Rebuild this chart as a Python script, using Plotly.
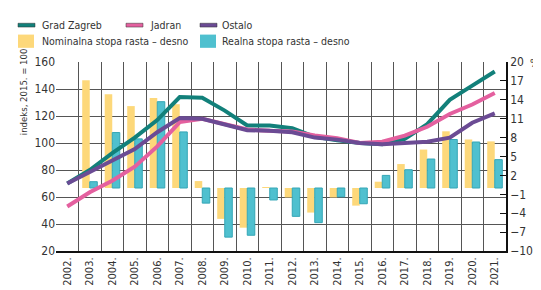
import plotly.graph_objects as go

years = [f"{y}." for y in range(2002, 2022)]
grad_zagreb = [70, 80, 92.5, 104, 117, 134, 133.5, 124, 113, 113, 111, 104.5, 102, 100, 99, 103, 114, 132, 142.5, 153]
jadran = [53, 63.5, 72, 82.5, 97.5, 115.5, 118, 114, 110, 109, 108.5, 105.5, 103.5, 100, 101, 105.5, 112, 121.5, 128.5, 137]
ostalo = [70, 78.5, 86.5, 95.5, 108, 118.5, 118, 113.5, 109.5, 109, 108, 104, 102.5, 100, 99, 100, 101, 104, 115, 122]
nominalna = [None, 17.1, 14.9, 13.0, 14.3, 13.3, 1.1, -4.9, -6.3, 0.1, -1.5, -3.9, -1.5, -2.8, 1.0, 3.8, 6.1, 9.0, 7.7, 7.4]
realna = [None, 1.0, 8.8, 7.8, 13.7, 8.9, -2.4, -7.8, -7.5, -1.9, -4.5, -5.5, -1.4, -2.5, 2.0, 2.9, 4.6, 7.7, 7.3, 4.5]
left_ticks = [20, 40, 60, 80, 100, 120, 140, 160]
right_ticks = [-10, -7, -4, -1, 2, 5, 8, 11, 14, 17, 20]

C_ZG = "#12807a"
C_JA = "#e4609f"
C_OS = "#6b4b94"
C_NOM = "#fdd87a"
C_REAL = "#4fc0cf"
FONT = "DejaVu Sans Condensed, Roboto Condensed, Arial Narrow, sans-serif"
TXT = "#333333"

fig = go.Figure()
fig.add_trace(go.Bar(x=years, y=nominalna, name="Nominalna stopa rasta – desno",
                     marker=dict(color=C_NOM, line=dict(width=0)), yaxis="y"))
fig.add_trace(go.Bar(x=years, y=realna, name="Realna stopa rasta – desno",
                     marker=dict(color=C_REAL, line=dict(color="#34a6b6", width=1)), yaxis="y"))
for name, vals, col in [("Grad Zagreb", grad_zagreb, C_ZG), ("Jadran", jadran, C_JA), ("Ostalo", ostalo, C_OS)]:
    fig.add_trace(go.Scatter(x=years, y=vals, name=name, mode="lines",
                             line=dict(color=col, width=4), yaxis="y2"))

fig.update_layout(
    width=541, height=290,
    margin=dict(l=48, r=43, t=54, b=36),
    paper_bgcolor="white", plot_bgcolor="white",
    showlegend=False,
    barmode="group", bargap=0.33, bargroupgap=0,
    font=dict(family=FONT, color=TXT, size=12),
    xaxis=dict(type="category", tickson="boundaries", showgrid=True, gridcolor="#555555", gridwidth=1,
               tickangle=-90, ticks="", showline=True, linecolor="#111111", linewidth=2,
               tickfont=dict(size=11), range=[-0.5, 19.5]),
    yaxis=dict(side="right", range=[-10, 20], tickvals=right_ticks,
               ticktext=[str(v).replace("-", "−") for v in right_ticks],
               showgrid=False, zeroline=False, showline=True, linecolor="#111111", linewidth=1.5,
               ticks="inside", ticklen=6, tickcolor="#111111", tickfont=dict(size=12)),
    yaxis2=dict(side="left", overlaying="y", range=[20, 160], tickvals=left_ticks,
                showgrid=True, gridcolor="#555555", gridwidth=1, zeroline=False,
                showline=False, ticks="", tickfont=dict(size=12)),
)

def px_x(px):
    return (px - 48) / 450

def px_y(py):
    return (254 - py) / 200

shapes = []
annotations = []
for x0, col, label, tx in [(10, C_ZG, "Grad Zagreb", 32), (118, C_JA, "Jadran", 140), (192, C_OS, "Ostalo", 212)]:
    shapes.append(dict(type="rect", xref="paper", yref="paper", x0=px_x(x0), x1=px_x(x0 + 17),
                       y0=px_y(17), y1=px_y(13), fillcolor=col, line=dict(color="#333333", width=0.5)))
    annotations.append(dict(text=label, xref="paper", yref="paper", x=px_x(tx), y=px_y(15),
                            xanchor="left", yanchor="middle", showarrow=False, font=dict(size=10.5)))
for x0, col, label, tx in [(10, C_NOM, "Nominalna stopa rasta – desno", 32), (192, C_REAL, "Realna stopa rasta – desno", 212)]:
    shapes.append(dict(type="rect", xref="paper", yref="paper", x0=px_x(x0), x1=px_x(x0 + 16),
                       y0=px_y(39), y1=px_y(25), fillcolor=col, line=dict(width=0)))
    annotations.append(dict(text=label, xref="paper", yref="paper", x=px_x(tx), y=px_y(32),
                            xanchor="left", yanchor="middle", showarrow=False, font=dict(size=10.5)))
annotations.append(dict(text="%", xref="paper", yref="paper", x=px_x(521), y=px_y(55),
                        xanchor="left", yanchor="middle", showarrow=False, borderpad=0, font=dict(size=10.5)))
annotations.append(dict(text="indeks, 2015. = 100", xref="paper", yref="paper", x=px_x(15), y=px_y(86),
                        xanchor="center", yanchor="middle", textangle=-90, showarrow=False, font=dict(size=9.5)))
fig.update_layout(shapes=shapes, annotations=annotations)

fig.write_html("out.html")
